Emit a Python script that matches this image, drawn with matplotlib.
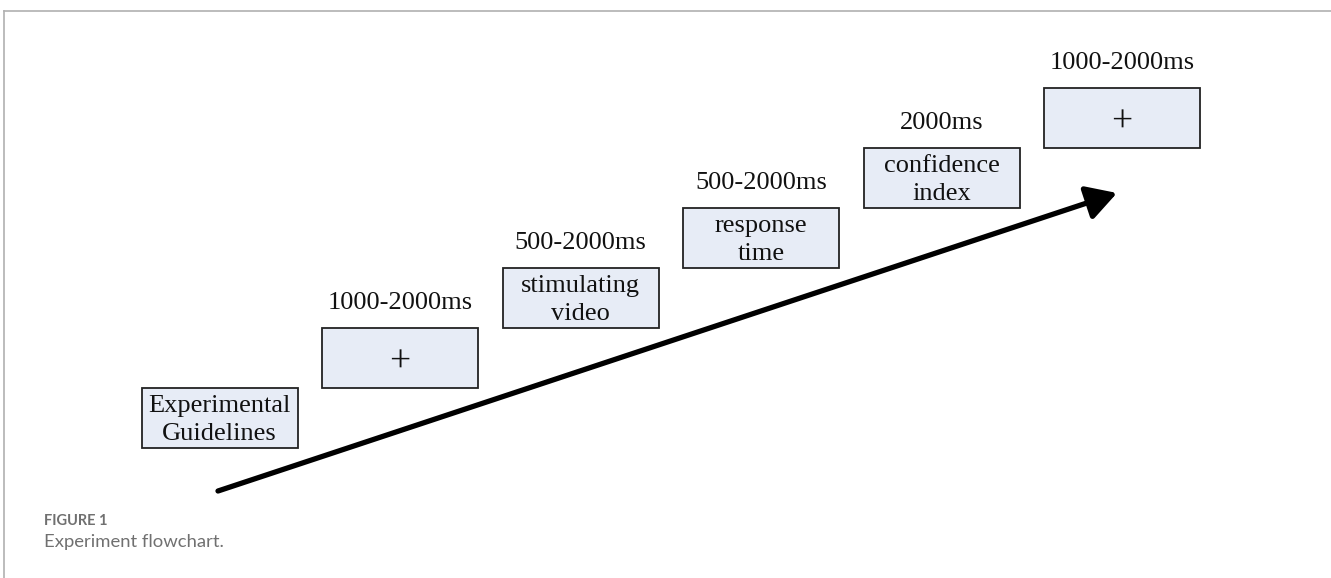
import matplotlib
matplotlib.use("Agg")
import matplotlib.pyplot as plt
from matplotlib.patches import Rectangle, FancyArrowPatch

# Data
step_texts = ["Experimental\nGuidelines", "+", "stimulating\nvideo", "response\ntime", "confidence\nindex", "+"]
durations = ["", "1000-2000ms", "500-2000ms", "500-2000ms", "2000ms", "1000-2000ms"]
caption_label = "FIGURE 1"
caption_text = "Experiment flowchart."

W, H = 1331, 578
fig = plt.figure(figsize=(W / 100, H / 100), dpi=100)
ax = fig.add_axes([0, 0, 1, 1])
ax.set_xlim(0, W)
ax.set_ylim(H, 0)
ax.axis("off")

# frame lines
ax.plot([4, W], [11, 11], color="#b0b0b0", lw=1.2)
ax.plot([4, 4], [11, H], color="#b0b0b0", lw=1.2)

serif = ["Liberation Serif", "DejaVu Serif"]
box_w, box_h = 156, 60
x0, y0 = 141.5, 388
dx, dy = 180.5, -60
for i, (t, d) in enumerate(zip(step_texts, durations)):
    bx = x0 + i * dx
    by = y0 + i * dy
    ax.add_patch(Rectangle((bx, by), box_w, box_h, facecolor="#e7ecf6",
                           edgecolor="#222222", lw=1.3))
    if t == "+":
        ax.text(bx + box_w / 2, by + box_h / 2 + 4, "+", ha="center", va="center",
                fontsize=27, family=serif, color="#111111")
    else:
        ax.text(bx + box_w / 2, by + box_h / 2 + 2, t, ha="center", va="center",
                fontsize=19, family=serif, color="#111111", linespacing=1.3)
    if d:
        ax.text(bx + box_w / 2, by - 25, d, ha="center", va="center",
                fontsize=19, family=serif, color="#111111")

arrow = FancyArrowPatch((218, 491), (1117, 193), arrowstyle="-|>,head_length=7,head_width=4",
                        mutation_scale=2.6, lw=3.8, color="black", shrinkA=0, shrinkB=0)
ax.add_patch(arrow)

ax.text(44, 521, caption_label, ha="left", va="center", fontsize=10.5,
        family=["Lato", "DejaVu Sans"], fontweight="bold", color="#707070")
ax.text(44, 542, caption_text, ha="left", va="center", fontsize=13.3,
        family=["Lato", "DejaVu Sans"], color="#707070")

fig.savefig("out.png", dpi=100)
